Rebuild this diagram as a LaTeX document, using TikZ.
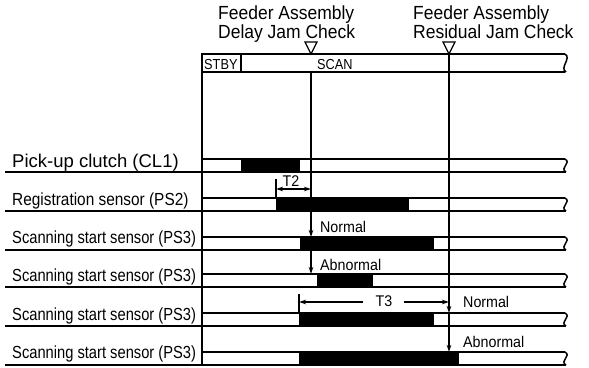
\documentclass[tikz,border=0pt]{standalone}
\usepackage{fontspec}
\setmainfont{Liberation Sans}
\newfontfamily\condA[FakeStretch=0.88]{Liberation Sans}
\newfontfamily\condB[FakeStretch=0.84]{Liberation Sans}
\newfontfamily\condC[FakeStretch=0.92]{Liberation Sans}
\usetikzlibrary{arrows.meta}
\begin{document}
\begin{tikzpicture}[x=1pt,y=-1pt,
  lbl/.style={anchor=base west,inner sep=0pt,font=\condB\fontsize{17.5}{19}\selectfont},
  ttl/.style={anchor=base west,inner sep=0pt,align=left,font=\condC\fontsize{19}{17}\selectfont},
  sm/.style={anchor=base west,inner sep=0pt,font=\condC\fontsize{15.5}{17}\selectfont},
  stext/.style={anchor=base west,inner sep=0pt,font=\condA\fontsize{14.5}{15}\selectfont},
  barline/.style={line width=1.5pt},
  sepline/.style={line width=1.5pt},
  vline/.style={line width=1.2pt},
  arr/.style={-{Stealth[length=7pt,width=4.5pt]}, line width=1.1pt},
  darr/.style={{Stealth[length=7pt,width=4.5pt]}-{Stealth[length=7pt,width=4.5pt]}, line width=1.1pt},
  trimark/.style={line width=1.2pt}]
\useasboundingbox (0,0) rectangle (589,367);
\fill[white] (0,0) rectangle (589,367);

% titles
\node[ttl] (t1) at (218,38) {Feeder Assembly\\Delay Jam Check};
\node[ttl] (t2) at (413,38) {Feeder Assembly\\Residual Jam Check};

% check triangles
\draw[trimark] (305,42) -- (317,42) -- (311,54) -- cycle;
\draw[trimark] (443,42) -- (455,42) -- (449,54) -- cycle;

% top state bar
\draw[barline] (565,54) -- (202,54) -- (202,72) -- (565,72);
\draw[barline] (565,54) .. controls +(7,4) and +(-7,-4) .. (566,72);
\draw[vline] (241,54) -- (241,72);
\node[stext] (stby) at (204,69) {STBY};
\node[stext] (scan) at (317,69) {SCAN};

% left border
\draw[line width=1.8pt] (202,54) -- (202,366);

% signal bars
\foreach \t/\b/\x/\y in {159/172/241/300, 198/211/276/409, 237/250/300/434,
                          274/287/317/373, 313/326/299/434, 352/365/299/459}{
  \fill[black] (\x,\t) rectangle (\y,\b);
  \draw[barline] (202,\t) -- (565,\t);
  \draw[barline] (202,\b) -- (566,\b);
  \draw[barline] (565,\t) .. controls +(7,4) and +(-7,-4) .. (566,\b);
  \draw[sepline] (5,\b) -- (202,\b);
}

% row labels
\node[lbl,font=\fontsize{18.5}{20}\selectfont] (l1) at (12,167) {Pick-up clutch (CL1)};
\node[lbl,font=\condA\fontsize{17.5}{19}\selectfont] (l2) at (12,205) {Registration sensor (PS2)};
\node[lbl] (l3) at (12,243) {Scanning start sensor (PS3)};
\node[lbl] (l4) at (12,281) {Scanning start sensor (PS3)};
\node[lbl] (l5) at (12,320) {Scanning start sensor (PS3)};
\node[lbl] (l6) at (12,358) {Scanning start sensor (PS3)};

% delay jam check line
\coordinate (d0) at (311,72);
\coordinate (d1) at (311,237);
\coordinate (d2) at (311,274);
\draw[arr] (d0) -- (d1);
\draw[arr] (d1) -- (d2);
\node[sm] (n1) at (320,232) {Normal};
\node[sm] (a1) at (320,270) {Abnormal};

% residual jam check line
\coordinate (r0) at (449,54);
\coordinate (r1) at (449,313);
\coordinate (r2) at (449,352);
\draw[arr] (r0) -- (r1);
\draw[arr] (r1) -- (r2);
\node[sm] (n2) at (463,307) {Normal};
\node[sm] (a2) at (463,347) {Abnormal};

% T2
\coordinate (t2s) at (276,189);
\coordinate (t2e) at (311,189);
\draw[vline] (276,179) -- (276,198);
\draw[darr] (t2s) -- (t2e);
\node[sm,anchor=base] (T2) at (291,186) {T2};

% T3
\draw[vline] (299,294) -- (299,313);
\node[sm,anchor=base] (T3) at (384,306) {T3};
\coordinate (t3s) at (299,302);
\coordinate (t3e) at (449,302);
\draw[arr] (T3.west |- t3s) ++(-12,0) -- (t3s);
\draw[arr] (T3.east |- t3e) ++(11,0) -- (t3e);
\end{tikzpicture}
\end{document}
